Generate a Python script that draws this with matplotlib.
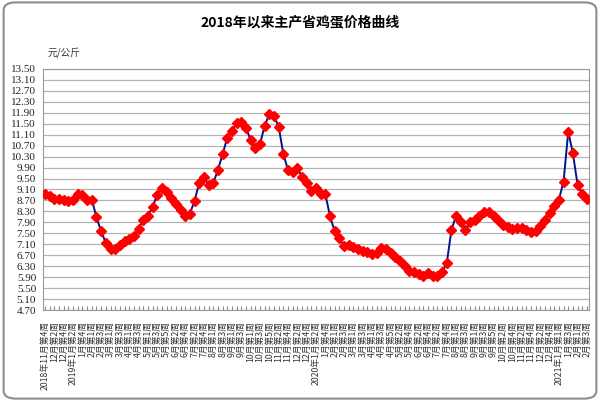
import numpy as np
import pandas as pd
import matplotlib
matplotlib.use("Agg")
import matplotlib.pyplot as plt
from matplotlib.patches import FancyBboxPatch

# weekly egg prices (yuan/kg), 2018-11 week 4 .. 2021-02 week 3
prices = [8.93, 8.85, 8.77, 8.77, 8.73, 8.69, 8.73, 8.93, 8.89, 8.73,
          8.73, 8.08, 7.57, 7.15, 6.91, 6.91, 7.09, 7.21, 7.31, 7.39,
          7.66, 8.00, 8.14, 8.46, 8.91, 9.15, 9.00, 8.78, 8.58, 8.36,
          8.12, 8.22, 8.69, 9.35, 9.57, 9.25, 9.33, 9.82, 10.39, 10.99,
          11.23, 11.54, 11.55, 11.35, 10.91, 10.60, 10.75, 11.43, 11.84, 11.79,
          11.39, 10.40, 9.81, 9.75, 9.88, 9.57, 9.34, 9.03, 9.15, 8.94,
          8.93, 8.12, 7.57, 7.33, 7.03, 7.09, 6.99, 6.91, 6.85, 6.81,
          6.76, 6.78, 6.97, 6.93, 6.78, 6.63, 6.48, 6.30, 6.14, 6.08,
          6.00, 5.94, 6.06, 5.94, 5.96, 6.08, 6.42, 7.63, 8.14, 7.90,
          7.61, 7.90, 8.00, 8.12, 8.28, 8.28, 8.14, 8.00, 7.79, 7.72,
          7.66, 7.70, 7.70, 7.61, 7.54, 7.57, 7.75, 8.00, 8.26, 8.51,
          8.73, 9.39, 11.21, 10.42, 9.27, 8.94, 8.75]

# week labels (week of month counted by Wednesdays)
weeks = pd.date_range("2018-11-28", periods=len(prices), freq="W-WED")
labels = []
last_year = None
for i, d in enumerate(weeks):
    if i % 2:
        labels.append("")
        continue
    txt = f"{d.month}月第{(d.day - 1) // 7 + 1}周"
    if d.year != last_year:
        txt = f"{d.year}年" + txt
        last_year = d.year
    labels.append(txt)

yticks = np.round(np.arange(4.7, 13.51, 0.4), 2)

cjk = ["Noto Sans CJK SC", "DejaVu Sans"]
fig = plt.figure(figsize=(6, 4.01), dpi=100)
fig.patches.append(FancyBboxPatch((0.006, 0.006), 0.988, 0.988,
                                  boxstyle="round,pad=0,rounding_size=0.02",
                                  transform=fig.transFigure, fill=False,
                                  edgecolor="#8c8c8c", lw=1.5))

ax = fig.add_axes([0.0717, 0.2269, 0.91, 0.6011])
x = np.arange(len(prices))
ax.plot(x, prices, color="#00148c", lw=1.4, marker="D", ms=4.8,
        mfc="red", mec="red", zorder=3)

ax.set_xlim(-0.45, len(prices) - 0.55)
ax.set_ylim(4.7, 13.5)
ax.set_yticks(yticks)
ax.set_yticklabels([f"{v:.2f}" for v in yticks], family="Liberation Serif",
                   fontsize=8, color="#222222")
ax.yaxis.grid(True, color="#b4b4b4", lw=0.9)
ax.tick_params(axis="y", length=0, pad=5)

ax.set_xticks(x)
ax.set_xticklabels(labels, rotation=90, family=cjk, fontsize=6.3,
                   color="#333333")
ax.tick_params(axis="x", direction="in", length=3, color="#888888", pad=8)

for s in ax.spines.values():
    s.set_color("#9a9a9a")
    s.set_linestyle((0, (1, 1)))
    s.set_linewidth(0.8)

fig.text(0.5, 0.945, "2018年以来主产省鸡蛋价格曲线", ha="center", va="center",
         family=cjk, fontsize=10, fontweight="bold")
fig.text(0.08, 0.87, "元/公斤", ha="left", va="center", family=cjk,
         fontsize=7, color="#333333")

fig.savefig("out.png", dpi=100)
